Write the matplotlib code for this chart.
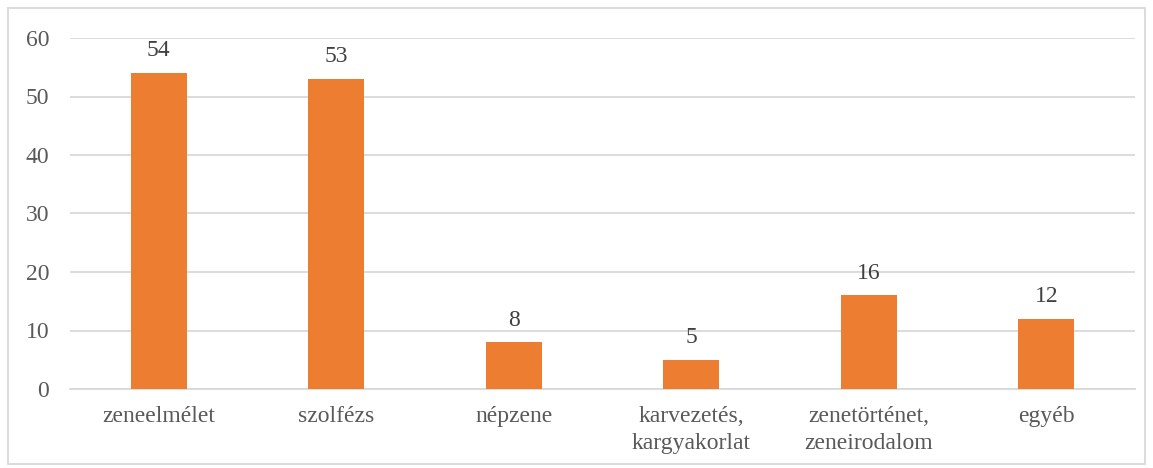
import matplotlib.pyplot as plt
from matplotlib.patches import Rectangle

categories = ['zeneelmélet', 'szolfézs', 'népzene', 'karvezetés,\nkargyakorlat',
              'zenetörténet,\nzeneirodalom', 'egyéb']
values = [54, 53, 8, 5, 16, 12]
yticks = [0, 10, 20, 30, 40, 50, 60]

plt.rcParams['font.family'] = ['Liberation Serif', 'DejaVu Serif']
text_color = '#595959'

fig = plt.figure(figsize=(11.53, 4.68), dpi=100)
ax = fig.add_axes([70 / 1153, 79 / 468, 1065 / 1153, 351 / 468])

x = range(len(categories))
bars = ax.bar(x, values, width=0.315, color='#ED7D31', zorder=3)
for xi, v in zip(x, values):
    ax.text(xi, v + 2.0, str(v), ha='center', va='bottom', fontsize=17, color='#404040')

ax.set_xlim(-0.5, len(categories) - 0.5)
ax.set_ylim(0, 60)
ax.set_yticks(yticks)
ax.set_xticks(list(x))
ax.set_xticklabels(categories, fontsize=17, color=text_color, linespacing=1.4)
ax.tick_params(axis='y', labelsize=17, labelcolor=text_color, length=0, pad=15)
ax.tick_params(axis='x', length=0, pad=12)
ax.grid(axis='y', color='#d9d9d9', linewidth=1.3, zorder=0)
for s in ['top', 'right', 'left']:
    ax.spines[s].set_visible(False)
ax.spines['bottom'].set_color('#d9d9d9')
ax.spines['bottom'].set_linewidth(1.3)

fig.patches.append(Rectangle((8 / 1153, 4 / 468), 1137 / 1153, 456 / 468,
                             transform=fig.transFigure, fill=False,
                             edgecolor='#d9d9d9', linewidth=1.3))

fig.savefig('out.png', dpi=100)
